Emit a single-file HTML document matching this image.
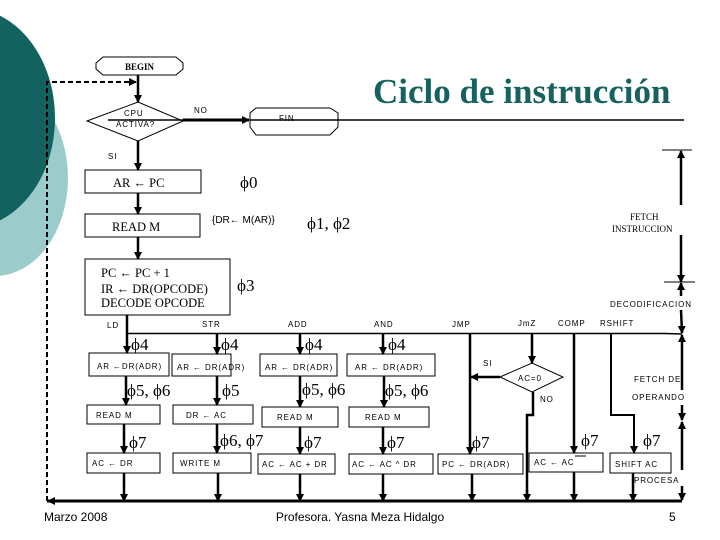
<!DOCTYPE html>
<html><head><meta charset="utf-8"><style>
html,body{margin:0;padding:0;background:#fff;}
svg{display:block;}
.s{font-family:"Liberation Sans",sans-serif;font-size:8px;letter-spacing:0.9px;fill:#000;}
.r{font-family:"Liberation Serif",serif;font-size:12.5px;fill:#000;}
.p{font-family:"Liberation Serif",serif;font-size:17px;fill:#000;}
</style></head><body>
<svg width="720" height="540" viewBox="0 0 720 540" xmlns="http://www.w3.org/2000/svg">
<defs>
<marker id="a" markerWidth="8" markerHeight="8" refX="7" refY="4" orient="auto" markerUnits="userSpaceOnUse"><path d="M0,0 L8,4 L0,8 z" fill="#000"/></marker>
</defs>
<ellipse cx="-5" cy="178" rx="73" ry="98" fill="#9ccbcb"/>
<ellipse cx="-32" cy="118" rx="87" ry="110" fill="#12625f"/>

<text x="373" y="103" style="font-family:'Liberation Serif',serif;font-weight:bold;font-size:35px;fill:#17615e">Ciclo de instrucción</text>

<g stroke="#000" fill="none">
<!-- BEGIN -->
<polygon points="103,57 176,57 183,63 183,69 176,75 103,75 96,69 96,63" stroke-width="1"/>
<!-- dashed -->
<polyline points="47,501 47,82 136,82" stroke-width="2" stroke-dasharray="5,3" marker-end="url(#a)"/>
<line x1="138" y1="75" x2="138" y2="102" stroke-width="2.5" marker-end="url(#a)"/>
<!-- diamond -->
<polygon points="87,121 138,102 183,121 138,141" stroke-width="1"/>
<line x1="108" y1="120" x2="183" y2="120" stroke-width="1.5"/>
<line x1="183" y1="120" x2="249" y2="120" stroke-width="3" marker-end="url(#a)"/>
<polygon points="256,108 330,108 338,113 338,127 330,135 256,135 250,127 250,113" stroke-width="1"/>
<line x1="250" y1="120" x2="684" y2="120" stroke-width="1.5"/>
<line x1="138" y1="141" x2="138" y2="170" stroke-width="2.5" marker-end="url(#a)"/>
<rect x="85" y="170" width="116" height="23" stroke-width="1"/>
<line x1="138" y1="193" x2="138" y2="214" stroke-width="2.5" marker-end="url(#a)"/>
<rect x="85" y="214" width="115" height="23" stroke-width="1"/>
<line x1="138" y1="237" x2="138" y2="259" stroke-width="2.5" marker-end="url(#a)"/>
<rect x="85" y="259" width="145" height="56" stroke-width="1"/>

<!-- right side timing -->
<line x1="662" y1="150" x2="692" y2="150" stroke-width="1"/>
<line x1="681" y1="205" x2="681" y2="151" stroke-width="2.5" marker-end="url(#a)"/>
<line x1="681" y1="235" x2="681" y2="282" stroke-width="2.5" marker-end="url(#a)"/>
<line x1="664" y1="282" x2="695" y2="282" stroke-width="1"/>
<line x1="681" y1="296" x2="681" y2="283" stroke-width="2.5" marker-end="url(#a)"/>
<line x1="681" y1="310" x2="682" y2="333" stroke-width="2.5" marker-end="url(#a)"/>
<line x1="682" y1="390" x2="682" y2="335" stroke-width="2.5" marker-end="url(#a)"/>
<line x1="682" y1="405" x2="682" y2="420" stroke-width="2.5" marker-end="url(#a)"/>
<line x1="682" y1="470" x2="682" y2="422" stroke-width="2.5" marker-end="url(#a)"/>
<line x1="682" y1="486" x2="682" y2="500" stroke-width="2.5" marker-end="url(#a)"/>

<!-- bus -->
<line x1="127" y1="315" x2="127" y2="334" stroke-width="2.5"/>
<polyline points="127,333.5 665,333.5 682,334" stroke-width="1.5"/>
<line x1="47" y1="501" x2="682" y2="501" stroke-width="3"/>
<line x1="60" y1="501" x2="48" y2="501" stroke-width="3" marker-end="url(#a)"/>

<!-- LD -->
<line x1="127" y1="334" x2="127" y2="353" stroke-width="2.5" marker-end="url(#a)"/>
<rect x="89" y="353" width="80" height="23" stroke-width="1"/>
<line x1="126" y1="376" x2="126" y2="405" stroke-width="2.5" marker-end="url(#a)"/>
<rect x="87" y="405" width="73" height="19" stroke-width="1"/>
<line x1="124" y1="424" x2="124" y2="453" stroke-width="2.5" marker-end="url(#a)"/>
<rect x="87" y="453" width="73" height="20" stroke-width="1"/>
<line x1="124" y1="473" x2="124" y2="501" stroke-width="2.5" marker-end="url(#a)"/>
<!-- STR -->
<line x1="217" y1="334" x2="217" y2="354" stroke-width="2.5" marker-end="url(#a)"/>
<rect x="172" y="354" width="59" height="22" stroke-width="1"/>
<line x1="217" y1="376" x2="217" y2="405" stroke-width="2.5" marker-end="url(#a)"/>
<rect x="173" y="405" width="80" height="19" stroke-width="1"/>
<line x1="217" y1="424" x2="217" y2="453" stroke-width="2.5" marker-end="url(#a)"/>
<rect x="173" y="453" width="78" height="20" stroke-width="1"/>
<line x1="218" y1="473" x2="218" y2="501" stroke-width="2.5" marker-end="url(#a)"/>
<!-- ADD -->
<line x1="300" y1="334" x2="300" y2="354" stroke-width="2.5" marker-end="url(#a)"/>
<rect x="260" y="354" width="77" height="22" stroke-width="1"/>
<line x1="300" y1="376" x2="300" y2="407" stroke-width="2.5" marker-end="url(#a)"/>
<rect x="262" y="407" width="76" height="20" stroke-width="1"/>
<line x1="300" y1="427" x2="300" y2="454" stroke-width="2.5" marker-end="url(#a)"/>
<rect x="258" y="454" width="77" height="20" stroke-width="1"/>
<line x1="300" y1="474" x2="300" y2="501" stroke-width="2.5" marker-end="url(#a)"/>
<!-- AND -->
<line x1="383" y1="334" x2="383" y2="354" stroke-width="2.5" marker-end="url(#a)"/>
<rect x="347" y="354" width="88" height="22" stroke-width="1"/>
<line x1="384" y1="376" x2="384" y2="407" stroke-width="2.5" marker-end="url(#a)"/>
<rect x="349" y="407" width="80" height="20" stroke-width="1"/>
<line x1="383" y1="427" x2="383" y2="454" stroke-width="2.5" marker-end="url(#a)"/>
<rect x="349" y="454" width="84" height="20" stroke-width="1"/>
<line x1="383" y1="474" x2="383" y2="501" stroke-width="2.5" marker-end="url(#a)"/>
<!-- JMP -->
<line x1="470" y1="334" x2="470" y2="454" stroke-width="2.5" marker-end="url(#a)"/>
<rect x="438" y="454" width="85" height="20" stroke-width="1"/>
<line x1="472" y1="474" x2="472" y2="501" stroke-width="2.5" marker-end="url(#a)"/>
<line x1="500" y1="377" x2="471" y2="377" stroke-width="2.5" marker-end="url(#a)"/>
<!-- JmZ -->
<line x1="532" y1="334" x2="532" y2="363" stroke-width="2.5" marker-end="url(#a)"/>
<polygon points="500,377 532,363 563,377 532,392" stroke-width="1"/>
<polyline points="533,392 533,415 527,415 527,501" stroke-width="2.5"/>
<line x1="527" y1="490" x2="527" y2="501" stroke-width="2.5" marker-end="url(#a)"/>
<!-- COMP -->
<line x1="574" y1="334" x2="574" y2="453" stroke-width="2.5" marker-end="url(#a)"/>
<rect x="529" y="453" width="74" height="19" stroke-width="1"/>
<line x1="574" y1="472" x2="574" y2="501" stroke-width="2.5" marker-end="url(#a)"/>
<line x1="575" y1="456" x2="586" y2="456" stroke-width="1"/>
<!-- RSHIFT -->
<polyline points="611,334 611,415 634,415 634,453" stroke-width="2" marker-end="url(#a)"/>
<rect x="610" y="453" width="61" height="20" stroke-width="1"/>
<line x1="633" y1="473" x2="633" y2="501" stroke-width="2.5" marker-end="url(#a)"/>
</g>

<text x="139.5" y="70" text-anchor="middle" style="font-family:'Liberation Serif',serif;font-weight:bold;font-size:9px">BEGIN</text>
<text x="124" y="116" class="s">CPU</text>
<text x="116" y="127" class="s">ACTIVA?</text>
<text x="194" y="113" class="s">NO</text>
<text x="279" y="121" class="s">FIN</text>
<text x="108" y="159" class="s">SI</text>
<text x="113" y="187" class="r">AR ← PC</text>
<text x="240" y="188" class="p">ϕ0</text>
<text x="112" y="231" class="r">READ M</text>
<text x="212" y="223" style="font-family:'Liberation Sans',sans-serif;font-size:10px">{DR← M(AR)}</text>
<text x="307" y="229" class="p">ϕ1, ϕ2</text>
<text x="101" y="277" class="r">PC ←  PC + 1</text>
<text x="101" y="293" class="r">IR  ←  DR(OPCODE)</text>
<text x="101" y="307" class="r">DECODE OPCODE</text>
<text x="237" y="291" class="p">ϕ3</text>
<text x="630" y="220" style="font-family:'Liberation Serif',serif;font-size:9px">FETCH</text>
<text x="612" y="232" style="font-family:'Liberation Serif',serif;font-size:9px">INSTRUCCION</text>
<text x="610" y="307" class="s">DECODIFICACION</text>

<text x="107" y="328" class="s">LD</text>
<text x="202" y="327" class="s">STR</text>
<text x="288" y="327" class="s">ADD</text>
<text x="374" y="327" class="s">AND</text>
<text x="452" y="327" class="s">JMP</text>
<text x="518" y="326" class="s">JmZ</text>
<text x="558" y="326" class="s">COMP</text>
<text x="600" y="326" class="s">RSHIFT</text>

<text x="131" y="350" class="p">ϕ4</text>
<text x="221" y="350" class="p">ϕ4</text>
<text x="305" y="350" class="p">ϕ4</text>
<text x="388" y="350" class="p">ϕ4</text>
<text x="127" y="396" class="p">ϕ5, ϕ6</text>
<text x="222" y="396" class="p">ϕ5</text>
<text x="302" y="395" class="p">ϕ5, ϕ6</text>
<text x="385" y="396" class="p">ϕ5, ϕ6</text>
<text x="129" y="448" class="p">ϕ7</text>
<text x="220" y="446" class="p">ϕ6, ϕ7</text>
<text x="304" y="448" class="p">ϕ7</text>
<text x="387" y="448" class="p">ϕ7</text>
<text x="472" y="448" class="p">ϕ7</text>
<text x="581" y="446" class="p">ϕ7</text>
<text x="643" y="446" class="p">ϕ7</text>

<text x="97" y="369" class="s">AR ←DR(ADR)</text>
<text x="177" y="370" class="s">AR ← DR(ADR)</text>
<text x="265" y="370" class="s">AR ← DR(ADR)</text>
<text x="355" y="370" class="s">AR ←  DR(ADR)</text>
<text x="96" y="418" class="s">READ M</text>
<text x="186" y="418" class="s">DR   ←  AC</text>
<text x="277" y="420" class="s">READ M</text>
<text x="365" y="420" class="s">READ M</text>
<text x="92" y="466" class="s">AC ←   DR</text>
<text x="180" y="466" class="s">WRITE M</text>
<text x="262" y="467" class="s">AC ←  AC + DR</text>
<text x="352" y="467" class="s">AC ←  AC ^ DR</text>
<text x="442" y="467" class="s">PC ←  DR(ADR)</text>
<text x="534" y="465" class="s">AC  ←  AC</text>
<text x="615" y="467" class="s">SHIFT AC</text>
<text x="483" y="366" class="s">SI</text>
<text x="518" y="381" class="s">AC=0</text>
<text x="540" y="402" class="s">NO</text>
<text x="634" y="382" class="s">FETCH DE</text>
<text x="632" y="400" class="s">OPERANDO</text>
<text x="634" y="483" class="s">PROCESA</text>

<text x="44" y="521" style="font-family:'Liberation Sans',sans-serif;font-size:12px">Marzo 2008</text>
<text x="360" y="521" text-anchor="middle" style="font-family:'Liberation Sans',sans-serif;font-size:12px">Profesora. Yasna Meza Hidalgo</text>
<text x="669" y="521" style="font-family:'Liberation Sans',sans-serif;font-size:12px">5</text>
</svg>
</body></html>
